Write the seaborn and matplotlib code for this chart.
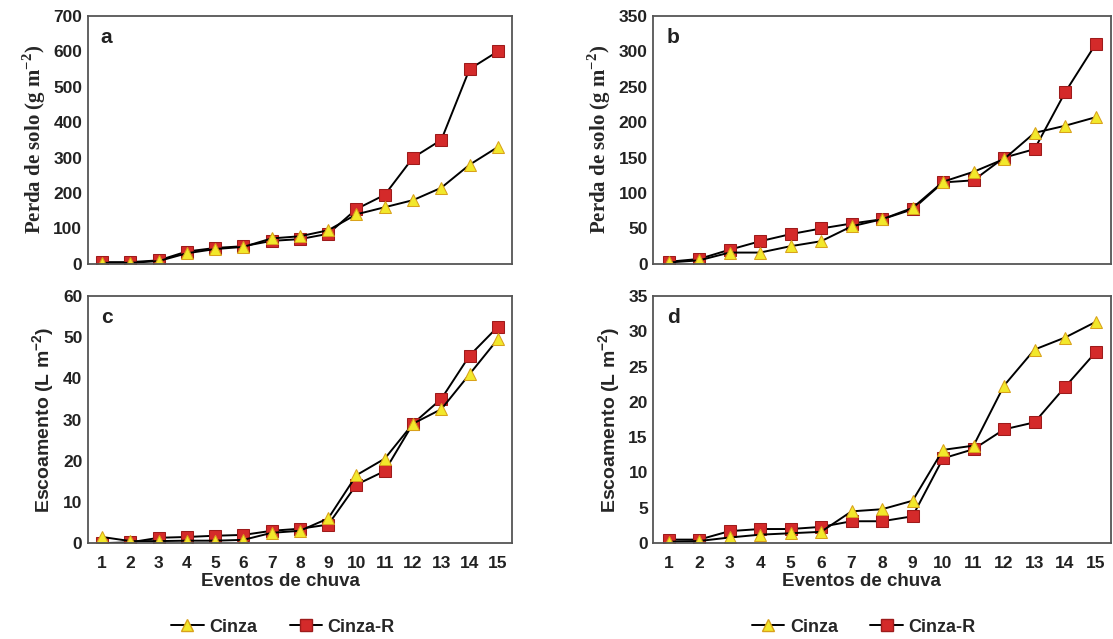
import numpy as np
import pandas as pd
import matplotlib
matplotlib.use("Agg")
import matplotlib.pyplot as plt
import seaborn as sns
from matplotlib.lines import Line2D

sns.set_style("white")
plt.rcParams['font.family'] = ['Liberation Sans', 'DejaVu Sans']

eventos = list(range(1, 15 + 1))

# a - perda de solo
a_cinza = [3, 3, 8, 30, 42, 48, 72, 78, 95, 140, 160, 180, 215, 280, 330]
a_cinza_r = [5, 5, 10, 35, 45, 50, 65, 70, 85, 155, 195, 300, 350, 550, 600]
# b - perda de solo
b_cinza = [2, 5, 16, 16, 25, 32, 53, 63, 79, 116, 130, 148, 185, 195, 207]
b_cinza_r = [3, 7, 20, 32, 42, 50, 57, 63, 77, 115, 118, 150, 162, 242, 310]
# c - escoamento
c_cinza = [1.5, 0.5, 0.5, 0.6, 0.6, 0.8, 2.5, 3.0, 6.0, 16.5, 20.5, 29.0, 32.5, 41.0, 49.5]
c_cinza_r = [0.0, 0.2, 1.3, 1.5, 1.8, 2.0, 3.0, 3.5, 4.5, 14.2, 17.5, 29.0, 35.0, 45.5, 52.5]
# d - escoamento
d_cinza = [0.2, 0.3, 0.8, 1.2, 1.4, 1.6, 4.5, 4.8, 6.0, 13.2, 13.8, 22.3, 27.4, 29.1, 31.3]
d_cinza_r = [0.5, 0.5, 1.7, 2.0, 2.0, 2.3, 3.1, 3.1, 3.8, 12.0, 13.3, 16.1, 17.1, 22.1, 27.0]

painel = ["a", "b", "c", "d"]
ylims = [700, 350, 60, 35]
ysteps = [100, 50, 10, 5]

yellow = "#F2E82B"
yellow_edge = "#D9A21B"
red = "#D42A2A"
red_edge = "#9E1B1B"

fig = plt.figure(figsize=(11.13, 6.39), dpi=100)
pos = [
    [0.079, 0.587, 0.381, 0.388],
    [0.587, 0.587, 0.411, 0.388],
    [0.079, 0.150, 0.381, 0.387],
    [0.587, 0.150, 0.411, 0.387],
]
series = [(a_cinza, a_cinza_r), (b_cinza, b_cinza_r), (c_cinza, c_cinza_r), (d_cinza, d_cinza_r)]

for i in range(4):
    ax = fig.add_axes(pos[i])
    cz, czr = series[i]
    df = pd.DataFrame({"evento": eventos, "Cinza": cz, "Cinza-R": czr})
    sns.lineplot(data=df, x="evento", y="Cinza-R", ax=ax, color="black", lw=1.4,
                 marker="s", markersize=8, markerfacecolor=red, markeredgecolor=red_edge)
    sns.lineplot(data=df, x="evento", y="Cinza", ax=ax, color="black", lw=1.4,
                 marker="^", markersize=8, markerfacecolor=yellow, markeredgecolor=yellow_edge)
    ax.set_xlim(0.5, 15.5)
    ax.set_ylim(0, ylims[i])
    ax.set_yticks(np.arange(0, ylims[i] + 1, ysteps[i]))
    ax.set_xticks(eventos)
    ax.tick_params(length=0, labelsize=12.5, pad=4)
    ax.tick_params(axis="x", pad=9)
    for lab in ax.get_yticklabels() + ax.get_xticklabels():
        lab.set_fontweight("bold")
        lab.set_color("#222222")
    for s in ax.spines.values():
        s.set_color("#555555")
        s.set_linewidth(1.3)
    ax.text(0.03, 0.95, painel[i], transform=ax.transAxes, fontsize=15,
            fontweight="bold", va="top", ha="left", color="#222222")
    if i < 2:
        ax.set_xticklabels([])
        ax.set_xlabel("")
        ax.set_ylabel(r"Perda de solo (g m$^{\mathregular{-2}}$)", family="Liberation Serif",
                      fontsize=15, fontweight="bold", labelpad=4)
    else:
        ax.set_xlabel("Eventos de chuva", fontsize=13.5, fontweight="bold", labelpad=2, x=0.455)
        ax.set_ylabel(r"Escoamento (L m$^{\mathregular{-2}}$)", fontsize=14, fontweight="bold", labelpad=4)
        handles = [
            Line2D([], [], color="black", lw=1.4, marker="^", markersize=8,
                   markerfacecolor=yellow, markeredgecolor=yellow_edge),
            Line2D([], [], color="black", lw=1.4, marker="s", markersize=8,
                   markerfacecolor=red, markeredgecolor=red_edge),
        ]
        leg = ax.legend(handles, ["Cinza", "Cinza-R"], loc="upper center",
                        bbox_to_anchor=(0.46, -0.24), ncol=2, frameon=False,
                        handlelength=1.8, handletextpad=0.3, columnspacing=1.8,
                        prop={"weight": "bold", "size": 13})

fig.savefig("out.png", dpi=100)
